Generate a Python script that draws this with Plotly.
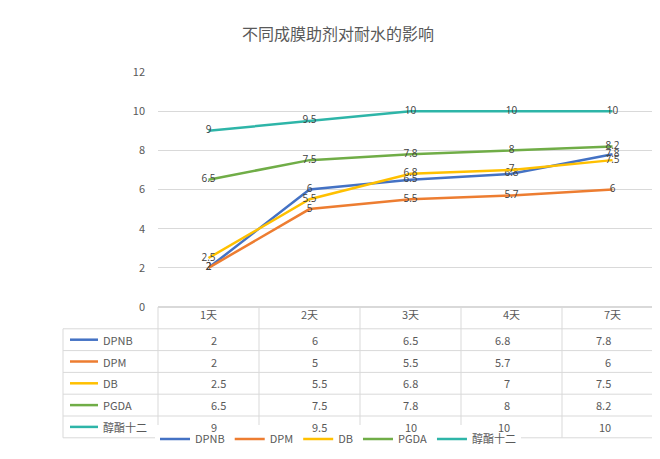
import plotly.graph_objects as go

days = ["1天", "2天", "3天", "4天", "7天"]
names = ["DPNB", "DPM", "DB", "PGDA", "醇酯十二"]
dpnb = [2, 6, 6.5, 6.8, 7.8]
dpm = [2, 5, 5.5, 5.7, 6]
db = [2.5, 5.5, 6.8, 7, 7.5]
pgda = [6.5, 7.5, 7.8, 8, 8.2]
cj12 = [9, 9.5, 10, 10, 10]
series = [dpnb, dpm, db, pgda, cj12]
colors = ["#4472C4", "#ED7D31", "#FFC000", "#70AD47", "#2EB5A8"]

W, H = 660, 459
L, R, T, B = 150, 5, 64, 160
ph = H - T - B
pw = W - L - R
row_h = 21.8 / ph
gray = "#595959"
font = dict(family="Noto Sans CJK SC, DejaVu Sans", size=11, color=gray)
x_left = (55 - L) / pw

fig = go.Figure()
for n, vals, c in zip(names, series, colors):
    fig.add_trace(go.Scatter(
        x=days, y=vals, name=n, mode="lines+text",
        line=dict(color=c, width=2.5),
        text=[str(v) for v in vals], textposition="middle center",
        textfont=dict(size=10, color="#404040"),
    ))

shapes = []
# table horizontal lines: header row + 5 data rows
for i in range(7):
    y = -i * row_h
    shapes.append(dict(type="line", xref="paper", yref="paper",
                       x0=x_left if i > 0 else 0, x1=1, y0=y, y1=y,
                       line=dict(color="#D9D9D9", width=1)))
# vertical lines
for x in [x_left] + [k / 5 for k in range(6)]:
    shapes.append(dict(type="line", xref="paper", yref="paper",
                       x0=x, x1=x, y0=-6 * row_h, y1=0 if x >= 0 else -row_h,
                       line=dict(color="#D9D9D9", width=1)))

ann = []
for r, (n, vals, c) in enumerate(zip(names, series, colors)):
    yc = -(r + 1.5) * row_h
    shapes.append(dict(type="line", xref="paper", yref="paper",
                       x0=(62 - L) / pw, x1=(90 - L) / pw, y0=yc, y1=yc,
                       line=dict(color=c, width=2.5)))
    ann.append(dict(xref="paper", yref="paper", x=(93 - L) / pw, y=yc,
                    text=n, showarrow=False, xanchor="left", yanchor="middle",
                    font=font))
    for k, v in enumerate(vals):
        ann.append(dict(xref="paper", yref="paper", x=(k + 0.5) / 5, y=yc,
                        text=str(v), showarrow=False, yanchor="middle",
                        font=font))

fig.update_layout(
    width=W, height=H, margin=dict(l=L, r=R, t=T, b=B),
    paper_bgcolor="white", plot_bgcolor="white",
    title=dict(text="不同成膜助剂对耐水的影响", x=0.5, y=0.955, xanchor="center",
               font=dict(family="Noto Sans CJK SC", size=16, color=gray)),
    xaxis=dict(showgrid=False, ticks="", tickfont=font, showline=False,
               range=[-0.5, 4.5], ticklabelstandoff=0),
    yaxis=dict(range=[0, 12], dtick=2, gridcolor="#D9D9D9", tickfont=font,
               zeroline=True, zerolinecolor="#D9D9D9", ticklabelstandoff=12),
    legend=dict(orientation="h", x=(330 - L) / pw, xanchor="center",
                y=-(438 - 306) / ph, yanchor="middle", font=font),
    shapes=shapes, annotations=ann, showlegend=True,
)
fig.write_html("out.html")
